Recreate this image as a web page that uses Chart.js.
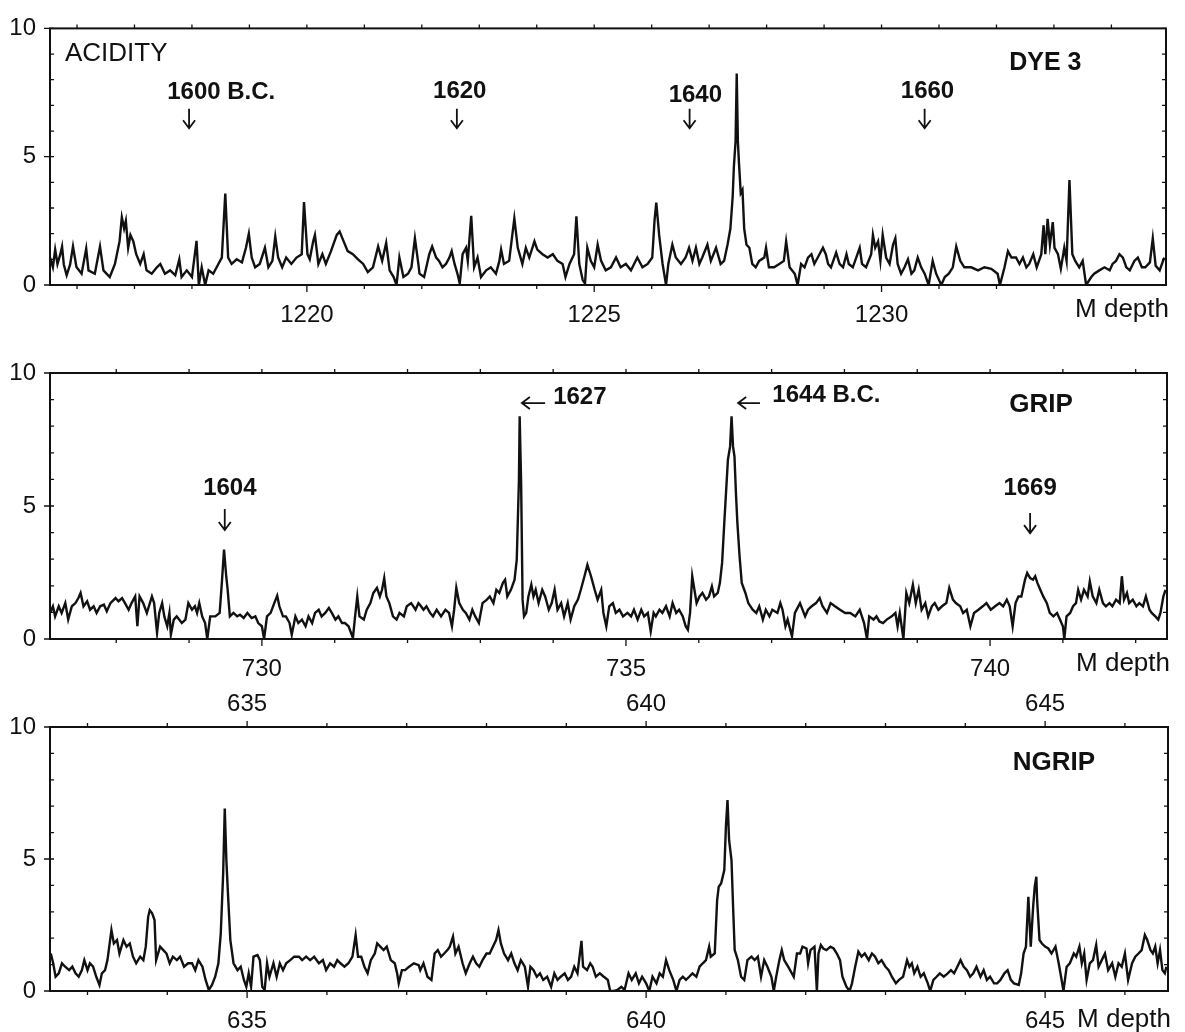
<!DOCTYPE html>
<html>
<head>
<meta charset="utf-8">
<script src="https://cdn.jsdelivr.net/npm/chart.js@4.4.1/dist/chart.umd.min.js"></script>
<style>
  body { margin: 0; background: #fff; }
  .panel { position: absolute; left: 0; }
</style>
</head>
<body>
<div class="panel" style="top:0px"><canvas id="dye" width="1185" height="340"></canvas></div>
<div class="panel" style="top:340px"><canvas id="grip" width="1185" height="340"></canvas></div>
<div class="panel" style="top:680px"><canvas id="ngrip" width="1185" height="352"></canvas></div>
<script>
// --- data (depth in m, acidity) ---

// DYE 3
const dyeDepth = [1215.53,1215.58,1215.62,1215.66,1215.71,1215.74,1215.77,1215.82,1215.88,1215.93,1215.99,1216.08,1216.16,1216.2,1216.31,1216.4,1216.46,1216.57,1216.66,1216.74,1216.78,1216.82,1216.85,1216.89,1216.93,1216.98,1217.03,1217.1,1217.16,1217.21,1217.3,1217.39,1217.45,1217.53,1217.62,1217.71,1217.78,1217.82,1217.91,1218.0,1218.08,1218.12,1218.17,1218.23,1218.29,1218.37,1218.46,1218.52,1218.58,1218.63,1218.69,1218.78,1218.87,1218.94,1218.99,1219.04,1219.1,1219.18,1219.27,1219.33,1219.4,1219.45,1219.5,1219.57,1219.64,1219.73,1219.82,1219.91,1219.95,1220.01,1220.05,1220.11,1220.14,1220.2,1220.27,1220.33,1220.42,1220.52,1220.57,1220.64,1220.71,1220.8,1220.89,1220.98,1221.06,1221.15,1221.24,1221.31,1221.38,1221.44,1221.51,1221.56,1221.61,1221.68,1221.76,1221.82,1221.88,1221.94,
  1221.96,1222.04,1222.13,1222.18,1222.25,1222.30,1222.36,1222.42,1222.48,1222.52,1222.57,1222.62,1222.66,1222.71,1222.77,1222.80,1222.86,1222.91,1222.97,1223.03,1223.12,1223.20,1223.29,1223.35,1223.38,1223.43,1223.52,1223.61,1223.67,1223.75,1223.81,1223.87,1223.96,1224.01,1224.10,1224.19,1224.28,1224.36,1224.45,1224.50,1224.57,1224.65,1224.69,1224.74,1224.80,1224.84,1224.88,1224.94,1225.00,1225.06,1225.12,1225.20,1225.29,1225.38,1225.46,1225.55,1225.64,1225.75,1225.84,1225.93,1226.01,1226.05,1226.08,1226.13,1226.19,1226.25,1226.29,1226.36,1226.42,1226.51,1226.59,1226.65,1226.71,1226.77,1226.83,1226.88,1226.97,1227.03,1227.12,1227.20,1227.26,1227.32,1227.37,1227.41,1227.43,1227.46,1227.48,1227.50,1227.52,1227.55,1227.58,1227.61,1227.65,1227.70,1227.75,1227.81,1227.87,1227.96,1227.99,1228.04,1228.13,1228.22,1228.30,1228.34,
  1228.40,1228.49,1228.54,1228.60,1228.66,1228.72,1228.78,1228.83,1228.89,1228.98,1229.03,1229.07,1229.12,1229.21,1229.27,1229.33,1229.39,1229.43,1229.50,1229.56,1229.62,1229.66,1229.73,1229.82,1229.85,1229.89,1229.94,1229.98,1230.02,1230.08,1230.14,1230.20,1230.24,1230.28,1230.34,1230.40,1230.46,1230.52,1230.57,1230.63,1230.69,1230.75,1230.82,1230.89,1230.95,1231.04,1231.10,1231.17,1231.24,1231.30,1231.37,1231.44,1231.56,1231.68,1231.79,1231.91,1232.02,1232.06,1232.14,1232.20,1232.26,1232.34,1232.40,1232.46,1232.52,1232.57,1232.64,1232.70,1232.78,1232.82,1232.85,1232.89,1232.93,1232.98,1233.01,1233.07,1233.12,1233.18,1233.22,1233.27,1233.32,1233.37,1233.44,1233.50,1233.56,1233.65,1233.70,1233.79,1233.88,1233.97,1234.02,1234.08,1234.14,1234.20,1234.26,1234.32,1234.40,1234.46,1234.53,1234.59,1234.67,1234.72,1234.77,1234.84,1234.88,1234.92];
const dyeAcid = [1.07,0.69,1.38,0.82,1.2,1.5,0.8,0.38,0.8,1.5,0.7,0.44,1.42,0.57,0.44,1.5,0.57,0.31,0.82,1.7,2.64,2.2,2.5,1.45,1.95,1.7,1.2,0.82,1.2,0.57,0.44,0.69,0.82,0.44,0.57,0.38,1.0,0.31,0.57,0.31,1.72,0,0.69,0,0.57,0.44,0.82,1.07,3.56,1.07,0.82,1.0,0.88,1.45,2.0,1.07,0.69,0.82,1.45,0.69,0.94,1.89,1.07,0.69,1.07,0.82,1.07,1.2,3.23,1.2,1.0,1.7,1.95,0.82,1.2,0.82,1.32,1.95,2.08,1.7,1.32,1.2,1.0,0.82,0.5,0.69,1.5,0.94,1.64,0.57,0.31,0,1.07,0.31,0.44,0.69,1.82,0.82,
  0.44,0.31,1.2,1.5,1.07,0.94,0.69,0.82,1.07,1.32,0.82,0.44,0.06,1.2,1.45,0.94,2.7,0.69,1.07,0.31,0.57,0.69,0.44,0.94,1.38,0.82,0.94,2.6,1.45,0.82,1.45,1.07,1.7,1.38,1.2,1.07,1.2,0.94,0.82,0.31,0.82,1.2,2.68,0.82,0.19,0.06,1.45,0.94,0.69,1.57,0.94,0.57,0.69,1.07,0.69,0.82,0.57,1.07,0.69,0.82,1.07,2.52,3.21,1.95,0.82,0,0.82,1.57,1.07,0.82,1.07,1.45,0.94,1.45,0.82,1.07,1.57,0.94,1.45,0.82,0.94,1.57,2.2,3.46,4.59,5.6,8.24,5.6,4.72,3.58,3.71,2.2,1.57,1.45,0.82,0.69,0.94,1.07,1.45,0.69,0.69,0.82,0.94,1.7,
  0.69,0.44,0,0.82,0.69,1.07,1.2,0.82,1.07,1.45,1.2,0.82,0.69,1.26,0.82,0.69,1.2,0.82,0.69,1.07,1.45,0.82,0.69,1.2,1.95,1.45,1.7,0.94,1.95,1.07,0.82,1.57,1.82,0.82,0.44,0.69,1.0,0.44,0.57,1.07,0.69,0.44,0,0.94,0.44,0,0.31,0.44,0.69,1.5,0.94,0.69,0.69,0.57,0.69,0.63,0.44,0,0.69,1.32,1.07,1.07,0.82,1.07,0.69,0.82,1.2,0.69,1.2,2.33,1.2,2.58,1.57,2.45,1.45,1.2,0.63,1.45,0.94,4.09,1.2,0.94,0.69,0.94,0,0.31,0.44,0.57,0.69,0.57,0.82,0.94,1.2,1.07,0.69,0.57,0.94,1.07,0.69,0.69,0.88,1.82,0.75,0.57,0.82,1.07];

// GRIP
const gripDepth = [727.09,727.13,727.16,727.21,727.25,727.30,727.34,727.39,727.44,727.48,727.51,727.55,727.60,727.64,727.69,727.73,727.78,727.83,727.87,727.92,727.99,728.03,728.08,728.12,728.17,728.21,728.26,728.29,728.32,728.37,728.42,728.49,728.52,728.56,728.59,728.63,728.66,728.70,728.73,728.75,728.79,728.83,728.90,728.95,728.99,729.04,729.08,729.11,729.14,729.18,729.22,729.25,729.29,729.36,729.42,729.45,729.48,729.51,729.53,729.56,729.61,729.66,729.70,729.75,729.80,729.86,729.91,729.95,730.00,730.03,730.07,730.12,730.17,730.21,730.24,730.29,730.33,730.38,730.41,730.46,730.50,730.55,730.60,730.64,730.69,730.73,730.78,730.82,730.87,730.92,730.96,731.01,731.05,731.10,731.14,731.19,731.25,731.28,731.31,731.34,731.40,731.44,731.49,731.53,731.58,731.62,731.65,731.68,731.71,731.75,731.80,731.85,731.89,731.95,731.99,732.05,732.11,732.15,
  732.17,732.22,732.26,732.31,732.35,732.40,732.46,732.52,732.57,732.61,732.64,732.67,732.71,732.76,732.80,732.85,732.89,732.93,732.98,733.03,733.09,733.13,733.18,733.22,733.26,733.31,733.34,733.37,733.42,733.47,733.50,733.53,733.54,733.56,733.58,733.60,733.63,733.66,733.70,733.73,733.76,733.80,733.85,733.89,733.94,733.98,734.02,734.06,734.11,734.15,734.20,734.24,734.29,734.34,734.38,734.43,734.47,734.52,734.57,734.61,734.66,734.69,734.73,734.77,734.82,734.86,734.91,734.96,735.02,735.07,735.11,735.16,735.21,735.25,735.30,735.34,735.38,735.41,735.46,735.50,735.55,735.60,735.64,735.69,735.73,735.78,735.82,735.85,735.88,735.91,735.94,735.97,736.01,736.05,736.10,736.14,736.18,736.21,736.26,736.29,736.32,736.35,736.40,736.43,736.45,736.47,736.49,736.51,736.53,736.56,736.59,736.64,736.68,736.74,736.79,736.83,736.88,736.92,736.97,737.01,737.08,737.12,737.15,737.19,737.22,
  737.28,737.32,737.39,737.46,737.50,737.55,737.61,737.66,737.70,737.76,737.81,737.87,737.94,738.01,738.08,738.15,738.21,738.27,738.31,738.34,738.40,738.44,738.48,738.53,738.58,738.65,738.70,738.73,738.76,738.81,738.85,738.89,738.94,738.98,739.02,739.06,739.11,739.15,739.20,739.24,739.29,739.34,739.40,739.44,739.49,739.53,739.59,739.63,739.68,739.73,739.78,739.84,739.90,739.95,740.01,740.07,740.13,740.18,740.23,740.27,740.31,740.35,740.39,740.43,740.48,740.51,740.55,740.59,740.62,740.65,740.69,740.73,740.78,740.82,740.87,740.92,740.96,741.00,741.02,741.05,741.10,741.14,741.18,741.21,741.25,741.29,741.34,741.37,741.41,741.46,741.50,741.55,741.59,741.64,741.68,741.73,741.78,741.81,741.84,741.88,741.91,741.96,742.01,742.05,742.10,742.14,742.19,742.22,742.27,742.31,742.34,742.38,742.41];
const gripAcid = [0.98,1.23,0.85,1.23,0.98,1.35,0.73,1.23,1.35,1.54,1.73,1.23,1.42,1.10,1.23,0.98,1.23,1.29,1.04,1.35,1.54,1.42,1.54,1.35,1.10,1.35,1.60,0.48,1.60,1.35,0.98,1.60,1.35,0.23,0.98,1.35,0.85,0.48,0.98,0.16,0.73,0.85,0.60,0.73,1.35,1.10,1.23,0.98,1.35,0.85,0.60,0,0.85,0.85,0.98,2.11,3.36,2.36,1.85,0.85,0.98,0.85,0.91,0.79,0.98,0.79,0.85,0.60,0.48,0,0.85,0.98,1.35,1.63,1.23,0.85,0.85,0.60,0.16,0.85,0.60,0.73,0.48,0.85,0.60,0.98,1.10,0.85,0.98,1.17,0.98,0.73,0.85,0.60,0.60,0.48,0.04,0.85,1.60,0.85,0.73,1.10,1.35,1.73,1.92,1.60,1.85,2.29,1.60,1.35,0.85,0.73,0.98,0.85,1.23,1.35,1.10,1.35,
  1.29,1.10,1.23,0.98,0.85,1.10,0.85,1.10,0.98,0.48,1.10,1.92,1.35,1.10,0.98,0.73,1.10,0.85,0.60,1.35,1.48,1.60,1.35,1.85,1.73,2.11,2.23,1.60,1.85,2.23,2.98,5.99,8.37,5.86,1.48,0.85,0.98,1.60,2.04,1.60,1.85,1.35,1.85,1.60,1.10,1.35,1.85,1.10,1.35,0.85,1.35,0.73,1.23,1.48,1.85,2.36,2.79,2.36,1.85,1.48,1.85,0.98,0.48,1.23,1.35,0.98,1.10,0.85,0.98,0.85,1.10,0.73,1.10,0.85,0.98,0.29,0.98,0.85,1.10,0.98,1.23,0.85,1.35,0.98,1.10,0.85,0.48,0.35,0.98,2.36,1.85,1.35,1.60,1.73,1.48,1.60,1.98,1.60,1.73,2.11,2.86,4.36,6.74,7.24,8.37,7.24,6.87,5.49,4.36,3.11,2.11,1.73,1.35,1.10,0.98,1.23,0.73,1.10,0.85,1.10,0.98,1.35,1.10,0.48,0.73,
  0.10,0.98,1.35,0.85,1.10,1.23,1.35,1.54,1.23,0.98,1.35,1.23,1.10,0.98,0.98,0.85,1.10,0.60,0,0.85,0.73,0.85,0.66,0.60,0.73,0.85,0.98,0.48,0.98,0,1.73,1.35,2.04,1.35,1.85,1.10,1.35,0.85,1.23,1.35,1.10,1.23,1.35,1.92,1.48,1.35,1.23,0.98,1.10,0.48,0.98,1.10,1.23,1.35,1.10,1.23,1.35,1.23,1.48,1.23,0.48,1.35,1.60,1.60,2.23,2.48,2.29,2.23,2.36,2.11,1.85,1.60,1.35,0.98,0.85,0.98,0.73,0.48,0,0.85,0.98,1.23,1.35,1.85,1.48,1.85,1.60,2.17,1.60,1.35,1.85,1.35,1.23,1.35,1.23,1.48,1.35,2.36,1.48,1.73,1.35,1.48,1.23,1.35,1.23,1.60,1.10,0.98,0.85,0.73,0.98,1.60,1.85];

// NGRIP
const ngripDepth = [632.54,632.57,632.60,632.64,632.68,632.72,632.77,632.81,632.85,632.89,632.93,632.96,633.00,633.03,633.07,633.11,633.15,633.18,633.22,633.25,633.30,633.33,633.37,633.40,633.45,633.49,633.53,633.57,633.61,633.66,633.70,633.73,633.76,633.78,633.81,633.84,633.86,633.91,633.95,633.99,634.03,634.07,634.12,634.16,634.21,634.26,634.31,634.35,634.39,634.44,634.48,634.52,634.56,634.60,634.64,634.67,634.70,634.72,634.74,634.76,634.79,634.83,634.88,634.92,634.96,634.99,635.02,635.05,635.08,635.13,635.16,635.19,635.22,635.25,635.28,635.33,635.37,635.41,635.45,635.49,635.54,635.59,635.65,635.69,635.74,635.79,635.84,635.90,635.95,635.99,636.04,636.09,636.13,636.17,636.22,636.27,636.32,636.36,636.39,636.43,636.47,636.51,636.55,636.60,636.63,636.67,636.71,636.75,636.80,636.85,636.88,636.90,636.94,636.98,637.03,637.09,637.15,
  637.17,637.21,637.26,637.31,637.35,637.39,637.43,637.47,637.51,637.54,637.58,637.61,637.65,637.70,637.74,637.79,637.83,637.87,637.91,637.95,638.00,638.04,638.08,638.12,638.15,638.18,638.22,638.27,638.31,638.35,638.39,638.43,638.48,638.52,638.55,638.59,638.63,638.67,638.71,638.76,638.81,638.85,638.89,638.93,638.98,639.02,639.06,639.10,639.14,639.19,639.21,639.26,639.30,639.33,639.37,639.42,639.47,639.52,639.55,639.60,639.64,639.69,639.73,639.78,639.82,639.87,639.91,639.95,640.00,640.04,640.08,640.13,640.17,640.21,640.25,640.29,640.34,640.38,640.42,640.46,640.50,640.54,640.58,640.63,640.67,640.71,640.75,640.79,640.81,640.86,640.89,640.91,640.94,640.98,641.00,641.02,641.04,641.07,641.09,641.11,641.15,641.19,641.23,641.27,641.32,641.36,641.40,641.44,641.48,641.52,641.57,641.60,641.63,641.67,641.70,641.73,641.78,
  641.85,641.89,641.93,641.96,642.01,642.03,642.06,642.11,642.14,642.16,642.19,642.22,642.26,642.31,642.35,642.39,642.43,642.46,642.51,642.55,642.58,642.62,642.66,642.70,642.74,642.79,642.83,642.87,642.91,642.95,643.00,643.04,643.08,643.13,643.17,643.22,643.27,643.30,643.33,643.36,643.40,643.44,643.48,643.53,643.56,643.60,643.64,643.68,643.73,643.78,643.82,643.86,643.90,643.94,643.98,644.02,644.06,644.10,644.14,644.19,644.23,644.27,644.31,644.36,644.40,644.44,644.49,644.53,644.57,644.61,644.67,644.70,644.73,644.76,644.79,644.82,644.85,644.87,644.89,644.90,644.93,644.96,645.00,645.04,645.08,645.13,645.17,645.20,645.23,645.27,645.31,645.36,645.39,645.43,645.46,645.49,645.52,645.56,645.60,645.64,645.67,645.71,645.75,645.79,645.84,645.88,645.92,645.96,646.00,646.04,646.09,646.13,646.17,646.21,646.25,646.28,646.32,646.35,646.38,646.41,646.44,646.47,646.50,646.52];
const ngripAcid = [1.42,1.05,0.54,0.67,1.05,0.92,0.79,0.92,0.67,0.54,0.79,1.17,0.79,1.05,0.92,0.54,0.23,0.67,0.79,1.17,2.31,1.80,1.93,1.42,1.93,1.68,1.80,1.30,1.05,1.30,1.17,1.68,2.81,3.06,2.94,2.69,1.17,1.68,1.55,1.42,1.05,1.30,1.17,1.30,0.92,1.05,1.05,0.79,1.17,0.92,0.42,0.04,0.23,0.54,1.05,2.18,4.45,6.91,4.96,3.69,1.93,1.05,0.79,0.92,0.42,0.16,0.67,0.16,1.30,1.36,1.17,0.16,0.04,1.05,0.54,1.05,0.54,1.05,0.79,1.05,1.17,1.30,1.30,1.17,1.30,1.17,1.30,1.05,1.17,0.79,1.05,0.92,1.17,1.05,0.92,1.05,1.30,2.12,1.30,1.30,0.92,0.67,1.17,1.42,1.80,1.68,1.55,1.68,1.17,1.05,0.67,0.29,0.79,0.79,0.92,1.05,0.98,
  0.79,1.05,0.54,0.42,1.42,1.55,1.30,1.42,1.55,1.68,2.06,1.42,1.68,1.05,0.67,1.05,1.30,1.05,0.92,1.17,1.42,1.42,1.68,1.93,2.31,1.80,1.42,1.17,1.42,1.05,0.79,1.17,0.92,0.16,0.92,0.79,0.54,0.67,0.42,0.54,0.16,0.67,0.42,0.54,0.67,0.42,0.54,0.92,0.67,1.90,0.92,0.79,1.05,0.92,0.54,0.67,0.54,0.42,0,0,0.04,0.16,0.04,0.67,0.42,0.67,0.29,0.54,0.29,0,0.54,0.29,0.67,0.54,1.17,0.79,0.42,0,0.42,0.54,0.42,0.54,0.67,0.54,0.92,1.05,1.17,1.68,1.30,1.42,3.44,3.95,4.07,4.58,6.22,7.23,5.71,4.96,3.19,1.55,1.17,0.54,0.42,1.17,1.30,1.17,1.30,0.54,1.17,0.92,0.54,0,0.54,1.17,1.55,1.17,0.92,
  0.54,1.42,1.42,1.68,1.61,1.05,1.55,1.68,0,1.42,1.74,1.61,1.55,1.68,1.61,1.42,1.17,0.54,0.16,0,0.29,0.92,1.49,1.30,1.42,1.17,1.42,1.30,1.05,1.17,0.92,0.79,0.54,0.29,0.42,0.54,1.17,0.92,1.05,0.67,0.92,0.54,0.67,0.29,0,0.42,0.54,0.67,0.54,0.67,0.79,0.67,0.92,1.17,0.92,0.79,0.54,0.67,0.92,0.54,0.79,0.42,0.54,0.29,0.29,0.42,0.67,0.79,0.42,0.29,0.23,0.67,1.42,1.68,3.57,1.68,3.19,3.95,4.33,3.44,1.93,1.80,1.68,1.61,1.42,1.68,1.05,0.54,0,0.92,1.05,1.42,1.30,1.68,1.05,1.42,0.42,1.05,1.17,1.74,0.92,1.17,1.42,0.79,1.05,0.54,1.05,0.92,1.42,0.42,1.05,1.30,1.42,1.55,2.12,1.93,1.55,1.42,1.68,1.05,1.55,0.79,0.67,0.92];

// --- styling ---
const ink = '#111';
const fontFamily = '"Liberation Sans", Arial, Helvetica, sans-serif';

// frame, small tick marks, labels and arrows drawn on top of each panel
const frameAndNotes = {
    id: 'frameAndNotes',
    afterDraw(chart, args, opts) {
        const { ctx, chartArea: a, scales } = chart;
        const xs = scales.x, ys = scales.y;
        ctx.save();
        ctx.strokeStyle = ink;
        ctx.fillStyle = ink;

        // box
        ctx.lineWidth = 2;
        ctx.strokeRect(a.left, a.top, a.right - a.left, a.bottom - a.top);

        // tick marks
        ctx.lineWidth = 1.3;
        ctx.beginPath();
        for (let d = Math.ceil(xs.min); d <= xs.max; d++) {
            const px = xs.getPixelForValue(d);
            const major = d % 5 === 0;
            ctx.moveTo(px, a.bottom); ctx.lineTo(px, a.bottom + (major ? 7 : 4));
            ctx.moveTo(px, a.top); ctx.lineTo(px, a.top - (major && opts.topLabels ? 6 : 4));
        }
        for (let v = 0; v <= 10; v++) {
            const py = ys.getPixelForValue(v);
            ctx.moveTo(a.left - (v % 5 === 0 ? 6 : 0), py); ctx.lineTo(a.left + 4, py);
            ctx.moveTo(a.right, py); ctx.lineTo(a.right - 4, py);
        }
        ctx.stroke();

        // text notes
        ctx.textBaseline = 'middle';
        (opts.notes || []).forEach(n => {
            ctx.font = (n.bold ? 'bold ' : '') + n.size + 'px ' + fontFamily;
            ctx.textAlign = n.align || 'center';
            ctx.fillText(n.text, xs.getPixelForValue(n.x), ys.getPixelForValue(n.y));
        });

        // arrows
        ctx.lineWidth = 1.8;
        (opts.arrows || []).forEach(ar => {
            ctx.beginPath();
            if (ar.dir === 'down') {
                const px = xs.getPixelForValue(ar.x);
                const y1 = ys.getPixelForValue(ar.from), y2 = ys.getPixelForValue(ar.to);
                ctx.moveTo(px, y1); ctx.lineTo(px, y2);
                ctx.moveTo(px - 6, y2 - 8); ctx.lineTo(px, y2); ctx.lineTo(px + 6, y2 - 8);
            } else {
                const py = ys.getPixelForValue(ar.y);
                const x1 = xs.getPixelForValue(ar.from), x2 = xs.getPixelForValue(ar.to);
                ctx.moveTo(x1, py); ctx.lineTo(x2, py);
                ctx.moveTo(x2 + 8, py - 6); ctx.lineTo(x2, py); ctx.lineTo(x2 + 8, py + 6);
            }
            ctx.stroke();
        });

        // unit text at the right end of the depth axis
        ctx.font = '26px ' + fontFamily;
        ctx.textAlign = 'right';
        ctx.textBaseline = 'alphabetic';
        ctx.fillText('M depth', a.right + 3, a.bottom + opts.unitDrop);
        ctx.restore();
    }
};

function depthTicks(padding) {
    return {
        stepSize: 5,
        includeBounds: false,
        color: ink,
        padding: padding,
        font: { size: 24, family: fontFamily },
        callback: v => (Math.abs(v % 5) < 1e-6 ? String(Math.round(v)) : null)
    };
}

function makePanel(id, depth, acid, p) {
    const scales = {
        x: {
            type: 'linear', position: 'bottom', min: p.xMin, max: p.xMax,
            grid: { display: false, drawTicks: false },
            border: { display: false },
            ticks: depthTicks(p.labelPad),
            afterFit: s => { s.height = p.canvasH - p.bottom; }
        },
        y: {
            min: 0, max: 10,
            grid: { display: false, drawTicks: false },
            border: { display: false },
            ticks: { stepSize: 5, color: ink, padding: 14, font: { size: 24, family: fontFamily } },
            afterFit: s => { s.width = 50; }
        }
    };
    let padTop = p.top;
    if (p.topLabels) {
        scales.xt = {
            type: 'linear', position: 'top', min: p.xMin, max: p.xMax,
            grid: { display: false, drawTicks: false },
            border: { display: false },
            ticks: depthTicks(8),
            afterFit: s => { s.height = 34; }
        };
        padTop = p.top - 34;
    }
    new Chart(document.getElementById(id), {
        type: 'line',
        data: {
            datasets: [{
                data: depth.map((d, i) => ({ x: d, y: acid[i] })),
                borderColor: ink,
                borderWidth: 2.4,
                borderJoinStyle: 'miter',
                pointRadius: 0,
                tension: 0,
                fill: false
            }]
        },
        options: {
            responsive: false,
            animation: false,
            layout: { padding: { top: padTop, right: 1185 - p.right, left: 0, bottom: 0 } },
            scales: scales,
            plugins: {
                legend: { display: false },
                tooltip: { enabled: false },
                frameAndNotes: { notes: p.notes, arrows: p.arrows, unitDrop: p.unitDrop, topLabels: !!p.topLabels }
            }
        },
        plugins: [frameAndNotes]
    });
}

// --- Panel 1: DYE 3 ---
makePanel('dye', dyeDepth, dyeAcid, {
    xMin: 1215.53, xMax: 1234.95, canvasH: 340, top: 20, bottom: 285, right: 1166,
    labelPad: 16, unitDrop: 32,
    notes: [
        { text: 'ACIDITY', x: 1215.79, y: 9.02, size: 26, align: 'left' },
        { text: 'DYE 3', x: 1232.85, y: 8.64, size: 25, bold: true },
        { text: '1600 B.C.', x: 1217.57, y: 7.51, size: 24, bold: true, align: 'left' },
        { text: '1620', x: 1222.66, y: 7.55, size: 24, bold: true },
        { text: '1640', x: 1226.76, y: 7.40, size: 24, bold: true },
        { text: '1660', x: 1230.80, y: 7.55, size: 24, bold: true }
    ],
    arrows: [
        { dir: 'down', x: 1217.95, from: 6.87, to: 6.11 },
        { dir: 'down', x: 1222.61, from: 6.87, to: 6.11 },
        { dir: 'down', x: 1226.66, from: 6.87, to: 6.11 },
        { dir: 'down', x: 1230.75, from: 6.87, to: 6.11 }
    ]
});

// --- Panel 2: GRIP ---
makePanel('grip', gripDepth, gripAcid, {
    xMin: 727.09, xMax: 742.43, canvasH: 340, top: 33, bottom: 299, right: 1167,
    labelPad: 16, unitDrop: 32,
    notes: [
        { text: 'GRIP', x: 740.70, y: 8.80, size: 26, bold: true },
        { text: '1604', x: 729.56, y: 5.68, size: 24, bold: true },
        { text: '1627', x: 734.00, y: 9.10, size: 24, bold: true, align: 'left' },
        { text: '1644 B.C.', x: 737.01, y: 9.17, size: 24, bold: true, align: 'left' },
        { text: '1669', x: 740.55, y: 5.68, size: 24, bold: true }
    ],
    arrows: [
        { dir: 'down', x: 729.49, from: 4.89, to: 4.10 },
        { dir: 'left', y: 8.87, from: 733.89, to: 733.57 },
        { dir: 'left', y: 8.87, from: 736.84, to: 736.54 },
        { dir: 'down', x: 740.55, from: 4.74, to: 3.98 }
    ]
});

// --- Panel 3: NGRIP ---
makePanel('ngrip', ngripDepth, ngripAcid, {
    xMin: 632.53, xMax: 646.54, canvasH: 352, top: 47, bottom: 311, right: 1168,
    labelPad: 16, unitDrop: 36, topLabels: true,
    notes: [
        { text: 'NGRIP', x: 645.11, y: 8.64, size: 26, bold: true }
    ],
    arrows: []
});
</script>
</body>
</html>
